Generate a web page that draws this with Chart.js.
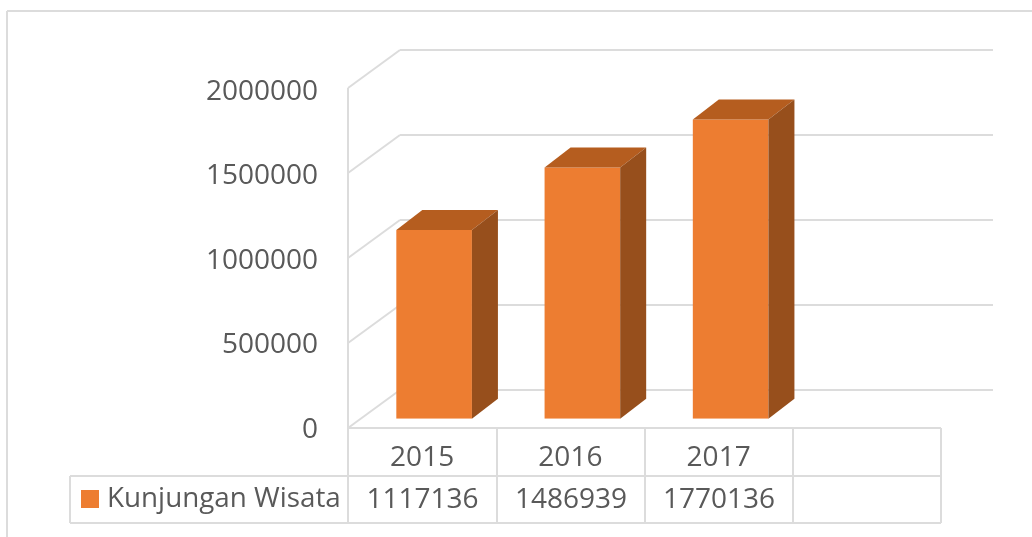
<!DOCTYPE html>
<html>
<head>
<meta charset="utf-8">
<script src="https://cdn.jsdelivr.net/npm/chart.js@4"></script>
<style>
  body { margin: 0; background: #fff; }
  canvas { display: block; }
</style>
</head>
<body>
<canvas id="kunjunganChart" width="1032" height="537"></canvas>
<script>
var categories = ['2015', '2016', '2017', ''];
var kunjunganWisata = [1117136, 1486939, 1770136, null];
var seriesName = 'Kunjungan Wisata';
var yTicks = [0, 500000, 1000000, 1500000, 2000000];

var textColor = '#595959';
var lineColor = '#DCDCDC';
var fontName = 'Open Sans';

function line(ctx, x1, y1, x2, y2) {
  ctx.beginPath();
  ctx.moveTo(x1, y1);
  ctx.lineTo(x2, y2);
  ctx.stroke();
}

function face(ctx, pts, color) {
  ctx.fillStyle = color;
  ctx.beginPath();
  ctx.moveTo(pts[0][0], pts[0][1]);
  for (var i = 1; i < pts.length; i++) ctx.lineTo(pts[i][0], pts[i][1]);
  ctx.closePath();
  ctx.fill();
}

// frame, side wall and back wall, under the bars
var wallPlugin = {
  id: 'wall',
  beforeDatasetsDraw: function(chart) {
    var ctx = chart.ctx;
    var y = chart.scales.y;
    var y0 = y.getPixelForValue(0);
    ctx.save();
    ctx.strokeStyle = lineColor;
    ctx.lineWidth = 2;
    line(ctx, 7, 537, 7, 11);
    line(ctx, 7, 11, 1032, 11);
    yTicks.forEach(function(v) {
      var h = (y0 - y.getPixelForValue(v)) * 340 / 338;
      line(ctx, 348, 428 - h, 400, 390 - h);
      line(ctx, 400, 390 - h, 993, 390 - h);
    });
    line(ctx, 348, 88, 348, 428);
    ctx.restore();
  },
  // top and side of each bar, plus the data table
  afterDatasetsDraw: function(chart) {
    var ctx = chart.ctx;
    var dx = 26, dy = 20;
    ctx.save();
    chart.getDatasetMeta(0).data.forEach(function(bar, i) {
      if (kunjunganWisata[i] === null) return;
      var l = bar.x - bar.width / 2, r = bar.x + bar.width / 2;
      face(ctx, [[l, bar.y], [r, bar.y], [r + dx, bar.y - dy], [l + dx, bar.y - dy]], '#B55D1F');
      face(ctx, [[r, bar.y], [r + dx, bar.y - dy], [r + dx, bar.base - dy], [r, bar.base]], '#974F1C');
    });

    var cols = [348, 497, 645, 793, 941];
    ctx.strokeStyle = lineColor;
    ctx.lineWidth = 2;
    line(ctx, 348, 428, 941, 428);
    line(ctx, 70, 476, 941, 476);
    line(ctx, 70, 523, 941, 523);
    line(ctx, 70, 476, 70, 523);
    cols.forEach(function(x) { line(ctx, x, 428, x, 523); });

    ctx.fillStyle = '#ED7D31';
    ctx.fillRect(81, 490, 18, 18);

    ctx.fillStyle = textColor;
    ctx.textBaseline = 'middle';
    ctx.textAlign = 'left';
    ctx.font = '27.8px ' + fontName;
    ctx.fillText(seriesName, 107, 499);
    ctx.font = '28px ' + fontName;
    ctx.textAlign = 'center';
    kunjunganWisata.forEach(function(v, i) {
      if (v !== null) ctx.fillText(String(v), (cols[i] + cols[i + 1]) / 2, 500);
    });
    ctx.restore();
  }
};

new Chart('kunjunganChart', {
  type: 'bar',
  data: {
    labels: categories,
    datasets: [{
      label: seriesName,
      data: kunjunganWisata,
      backgroundColor: '#ED7D31',
      barPercentage: 0.51,
      categoryPercentage: 1
    }]
  },
  options: {
    responsive: false,
    animation: false,
    layout: { padding: { top: 80.7, right: 79, left: 0, bottom: 0 } },
    plugins: { legend: { display: false }, tooltip: { enabled: false } },
    scales: {
      x: {
        grid: { display: false, drawTicks: false },
        border: { display: false },
        ticks: {
          color: textColor,
          font: { family: fontName, size: 28 },
          padding: 23,
          labelOffset: -12,
          maxRotation: 0
        },
        afterFit: function(scale) { scale.height = 118.3; }
      },
      y: {
        min: 0,
        max: 2000000,
        afterBuildTicks: function(scale) {
          scale.ticks = yTicks.map(function(v) { return { value: v }; });
        },
        grid: { display: false, drawTicks: false },
        border: { display: false },
        ticks: {
          color: textColor,
          font: { family: fontName, size: 28 },
          padding: 42,
          labelOffset: 11,
          callback: function(v) { return String(v); }
        },
        afterFit: function(scale) { scale.width = 360; }
      }
    }
  },
  plugins: [wallPlugin]
});
</script>
</body>
</html>
